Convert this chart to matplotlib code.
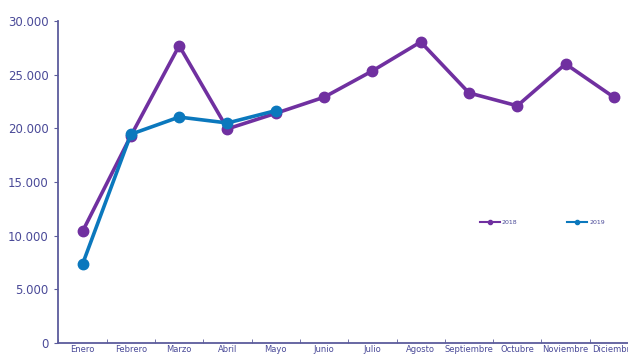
import matplotlib.pyplot as plt
from matplotlib.ticker import FuncFormatter, FixedLocator

# =============================================================================
# Data
# =============================================================================

meses = ["Enero", "Febrero", "Marzo", "Abril", "Mayo", "Junio", "Julio",
         "Agosto", "Septiembre", "Octubre", "Noviembre", "Diciembre"]

valores_2018 = [10400, 19300, 27700, 19950, 21400, 22900, 25350,
                28050, 23300, 22100, 26000, 22900]
valores_2019 = [7350, 19450, 21050, 20500, 21650]

COLOR_2018 = "#7030a0"
COLOR_2019 = "#0b78bd"
COLOR_TEXT = "#4a4a98"
COLOR_AXIS = "#5c5c9c"

# =============================================================================
# Plot
# =============================================================================

fig = plt.figure(figsize=(6.28, 3.56), dpi=100)
ax = fig.add_axes([0.093, 0.0365, 0.923, 0.9045])

x18 = list(range(len(valores_2018)))
x19 = list(range(len(valores_2019)))

ax.plot(x18, valores_2018, color=COLOR_2018, lw=2.6, marker="o", ms=7.5,
        label="2018", zorder=3)
ax.plot(x19, valores_2019, color=COLOR_2019, lw=2.6, marker="o", ms=7.5,
        label="2019", zorder=4)

ax.set_xlim(-0.5, 11.5)
ax.set_ylim(0, 30000)
ax.set_yticks(range(0, 30001, 5000))
ax.yaxis.set_major_formatter(FuncFormatter(lambda v, p: f"{int(v):,}".replace(",", ".")))

ax.set_xticks(x18)
ax.set_xticklabels(meses)
ax.xaxis.set_minor_locator(FixedLocator([i + 0.5 for i in range(-1, 12)]))

for s in ["top", "right"]:
    ax.spines[s].set_visible(False)
for s in ["left", "bottom"]:
    ax.spines[s].set_color(COLOR_AXIS)
    ax.spines[s].set_linewidth(1.3)

ax.tick_params(axis="y", colors=COLOR_AXIS, labelcolor=COLOR_TEXT,
               labelsize=8.5, length=3, pad=4)
ax.tick_params(axis="x", which="major", length=0, labelcolor=COLOR_TEXT,
               labelsize=6, pad=1.5)
ax.tick_params(axis="x", which="minor", direction="in", length=3,
               colors=COLOR_AXIS)

leg = ax.legend(loc="center", bbox_to_anchor=(0.835, 0.375), ncol=2,
                frameon=False, fontsize=4.5, handlelength=3.2,
                columnspacing=8, handletextpad=0.3, markerscale=0.4)
for t in leg.get_texts():
    t.set_color(COLOR_TEXT)
for h in leg.get_lines():
    h.set_linewidth(1.5)

fig.savefig("out.png", dpi=100)
